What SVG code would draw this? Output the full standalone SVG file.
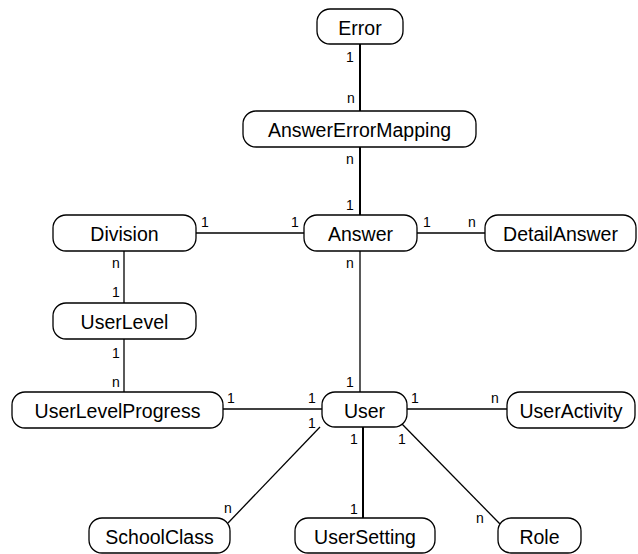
<svg xmlns="http://www.w3.org/2000/svg" width="638" height="554" viewBox="0 0 638 554">
<style>
.n rect{fill:#fff;stroke:#000;stroke-width:1.3}
.n text{font-family:"Liberation Sans",Arial,sans-serif;font-size:19.5px;text-anchor:middle;fill:#000}
.c line{stroke:#000;stroke-width:1.3}
.c line.t{stroke-width:2}
.l text{font-family:"Liberation Sans",Arial,sans-serif;font-size:14px;fill:#000;text-anchor:middle}
</style>
<rect width="638" height="554" fill="#fff"/>
<g class="c">
<line class="t" x1="360" y1="44" x2="360" y2="111"/>
<line class="t" x1="360" y1="147" x2="360" y2="215"/>
<line x1="196" y1="233" x2="304" y2="233"/>
<line x1="417" y1="233" x2="485" y2="233"/>
<line x1="360" y1="251" x2="360" y2="392"/>
<line x1="124" y1="251" x2="124" y2="303"/>
<line x1="124" y1="339" x2="124" y2="392"/>
<line x1="223" y1="409" x2="322" y2="409"/>
<line x1="407" y1="409" x2="507" y2="409"/>
<line class="t" x1="363" y1="427" x2="363" y2="518"/>
<line x1="320" y1="427" x2="228" y2="523"/>
<line x1="402" y1="424" x2="500" y2="524"/>
</g>
<g class="n" id="Error"><rect x="317" y="9" width="86" height="35" rx="13"/><text x="360" y="35">Error</text></g>
<g class="n" id="AnswerErrorMapping"><rect x="243" y="111" width="233" height="36" rx="13"/><text x="359.5" y="137">AnswerErrorMapping</text></g>
<g class="n" id="Division"><rect x="53" y="215" width="143" height="36" rx="13"/><text x="124.5" y="241">Division</text></g>
<g class="n" id="Answer"><rect x="304" y="215" width="113" height="36" rx="13"/><text x="360.5" y="241">Answer</text></g>
<g class="n" id="DetailAnswer"><rect x="485" y="215" width="151" height="36" rx="13"/><text x="560.5" y="241">DetailAnswer</text></g>
<g class="n" id="UserLevel"><rect x="53" y="303" width="143" height="36" rx="13"/><text x="124.5" y="329">UserLevel</text></g>
<g class="n" id="UserLevelProgress"><rect x="12" y="392" width="211" height="36" rx="13"/><text x="117.5" y="418">UserLevelProgress</text></g>
<g class="n" id="User"><rect x="322" y="392" width="85" height="35" rx="13"/><text x="364.5" y="418">User</text></g>
<g class="n" id="UserActivity"><rect x="507" y="392" width="128" height="36" rx="13"/><text x="571" y="418">UserActivity</text></g>
<g class="n" id="SchoolClass"><rect x="89" y="518" width="141" height="35" rx="13"/><text x="159.5" y="544">SchoolClass</text></g>
<g class="n" id="UserSetting"><rect x="295" y="518" width="140" height="35" rx="13"/><text x="365" y="544">UserSetting</text></g>
<g class="n" id="Role"><rect x="498" y="518" width="83" height="35" rx="13"/><text x="539.5" y="544">Role</text></g>
<g class="l">
<text x="350" y="62">1</text>
<text x="351" y="103">n</text>
<text x="350" y="164">n</text>
<text x="350" y="210">1</text>
<text x="205" y="227">1</text>
<text x="295" y="227">1</text>
<text x="427" y="227">1</text>
<text x="472" y="227">n</text>
<text x="350" y="268">n</text>
<text x="350" y="387">1</text>
<text x="116" y="268">n</text>
<text x="116" y="297">1</text>
<text x="116" y="358">1</text>
<text x="116" y="387">n</text>
<text x="231" y="403">1</text>
<text x="312" y="403">1</text>
<text x="415" y="403">1</text>
<text x="495" y="403">n</text>
<text x="312" y="428">1</text>
<text x="228" y="513">n</text>
<text x="354" y="444">1</text>
<text x="354" y="514">1</text>
<text x="402" y="444">1</text>
<text x="480" y="523">n</text>
</g>
</svg>
